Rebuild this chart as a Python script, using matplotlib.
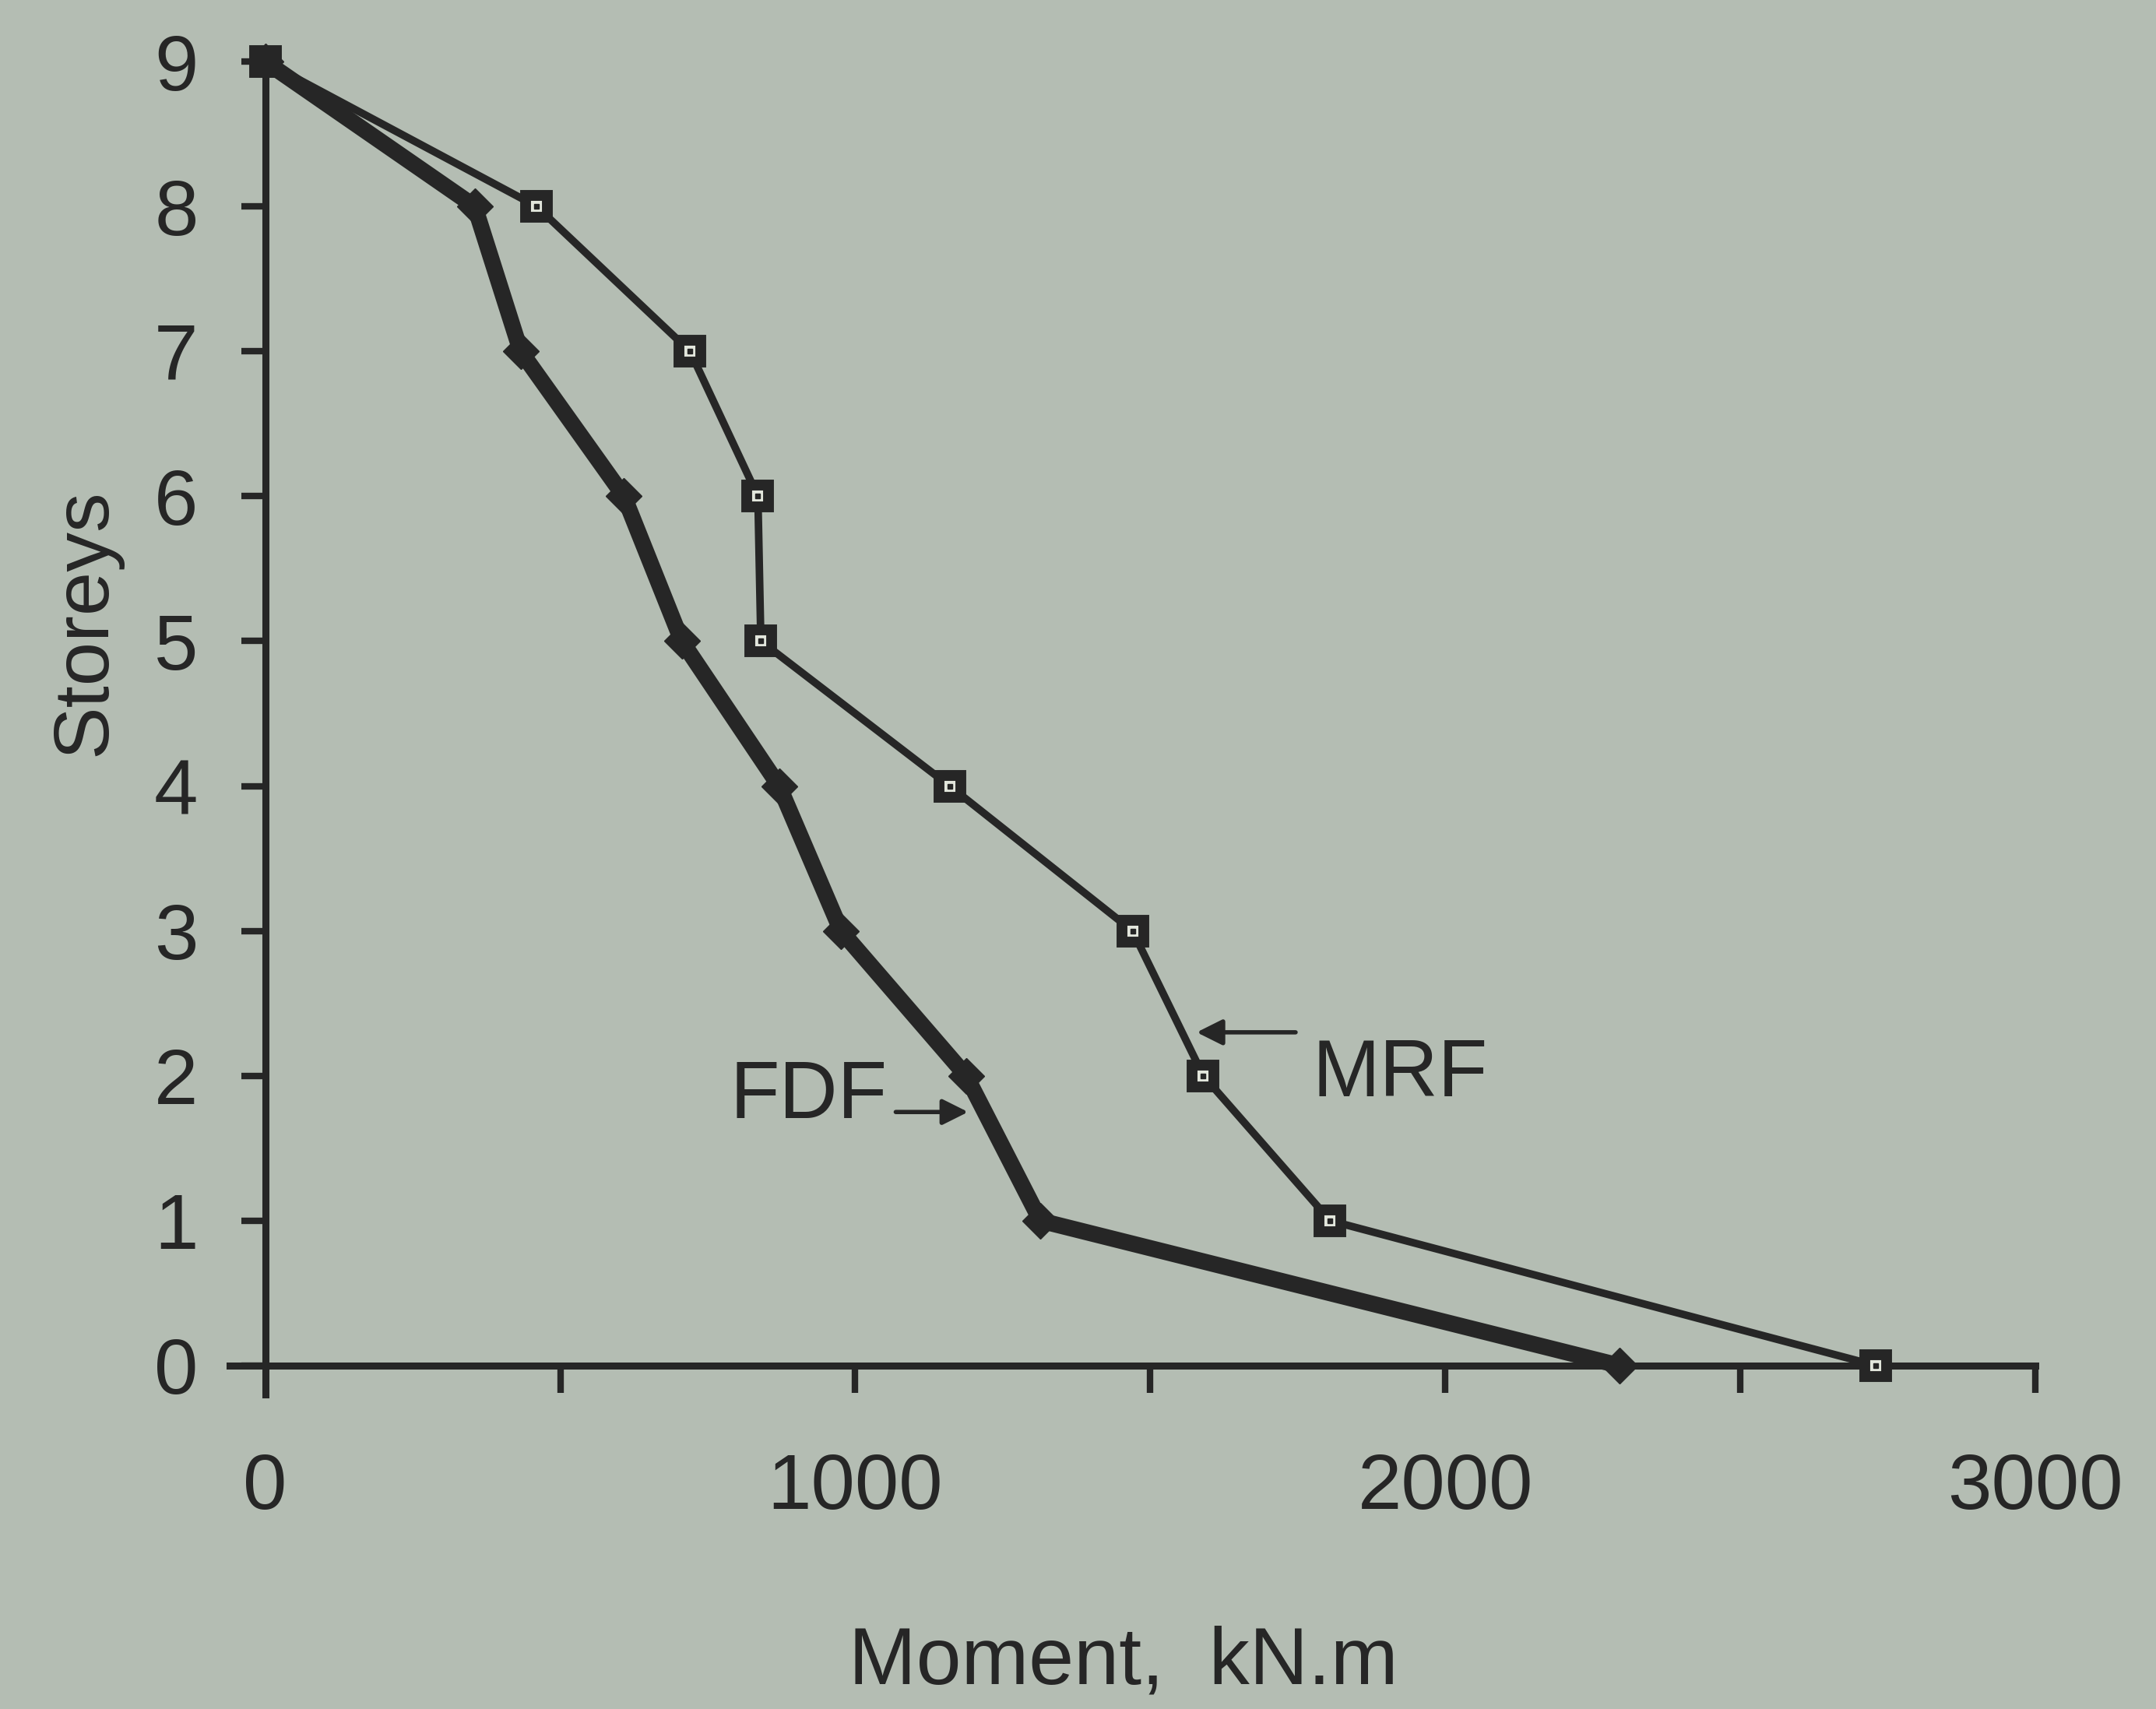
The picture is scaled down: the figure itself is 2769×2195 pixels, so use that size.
import numpy as np
import matplotlib.pyplot as plt

# datos
storeys = [9, 8, 7, 6, 5, 4, 3, 2, 1, 0]
mrf = [0, 460, 720, 835, 840, 1160, 1470, 1590, 1805, 2730]
fdf = [0, 355, 433, 608, 706, 871, 976, 1188, 1314, 2295]

yticks = list(range(0, 10))
xticks_major = [1000, 2000, 3000]
xticks_minor = [500, 1500, 2500]

bg = '#b4bdb3'
ink = '#262626'

plt.rcParams['font.family'] = ['Liberation Sans', 'DejaVu Sans']

fig = plt.figure(figsize=(27.69, 21.95), dpi=100)
fig.patch.set_facecolor(bg)
ax = fig.add_axes([0.1066, 0.184, 0.8374, 0.780])
ax.set_facecolor(bg)

# MRF: cuadrados abiertos con punto
ax.plot(mrf, storeys, color=ink, lw=7, marker='s', ms=20, mew=10,
        mfc='#e2e6dc', mec=ink, clip_on=False, zorder=3)
ax.plot(mrf, storeys, ls='none', marker='s', ms=4.5, color=ink,
        clip_on=False, zorder=4)

# FDF: linea gruesa con marcadores llenos
ax.plot(fdf, storeys, color=ink, lw=15, marker='D', ms=23,
        mfc=ink, mec=ink, solid_joinstyle='round', clip_on=False, zorder=5)
ax.plot(fdf[:1], storeys[:1], ls='none', marker='s', ms=28, color=ink,
        clip_on=False, zorder=6)

ax.set_xlim(-60, 3000)
ax.set_ylim(-0.2, 9.0)

for s in ['top', 'right']:
    ax.spines[s].set_visible(False)
ax.spines['left'].set_position(('data', 0))
ax.spines['bottom'].set_position(('data', 0))
ax.spines['left'].set_bounds(-0.2, 9)
ax.spines['bottom'].set_bounds(-60, 3000)
for s in ['left', 'bottom']:
    ax.spines[s].set_linewidth(6.5)
    ax.spines[s].set_color(ink)

ax.set_yticks(yticks)
ax.set_xticks([0] + xticks_major)
ax.set_xticks(xticks_minor, minor=True)
ax.tick_params(axis='y', direction='out', length=22, width=6, color=ink,
               labelsize=73, labelcolor=ink, pad=40)
ax.tick_params(axis='x', which='both', direction='out', length=25, width=6,
               color=ink, labelsize=73, labelcolor=ink, pad=55)
ax.xaxis.get_major_ticks()[0].tick1line.set_visible(False)

fig.text(0.521, 0.027, 'Moment,  kN.m', fontsize=75, color=ink,
         ha='center', va='center')
fig.text(0.0395, 0.636, 'Storeys', fontsize=73, color=ink,
         ha='center', va='center', rotation=90)

# etiquetas con flechas
ax.annotate('', xy=(1195, 1.75), xytext=(1065, 1.75),
            arrowprops=dict(arrowstyle='-|>', color=ink, lw=4,
                            mutation_scale=50))
ax.text(1055, 1.85, 'FDF', fontsize=75, color=ink, ha='right', va='center')
ax.annotate('', xy=(1575, 2.3), xytext=(1750, 2.3),
            arrowprops=dict(arrowstyle='-|>', color=ink, lw=4,
                            mutation_scale=50))
ax.text(1775, 2.0, 'MRF', fontsize=75, color=ink, ha='left', va='center')

plt.savefig('out.png', dpi=100, facecolor=bg)
